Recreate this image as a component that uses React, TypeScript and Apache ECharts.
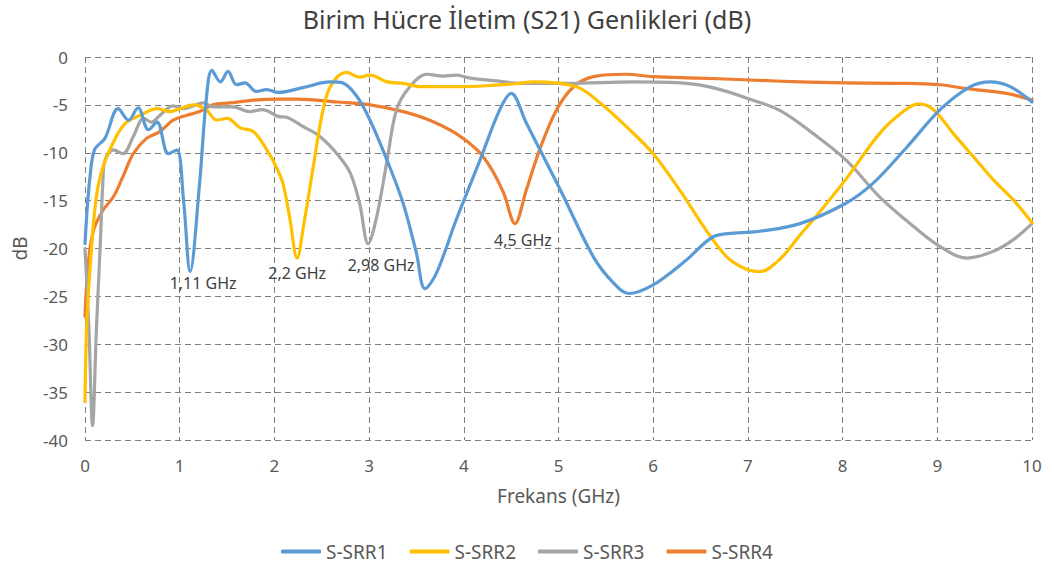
import React, { useEffect, useRef } from "react";
import * as echarts from "echarts";

const seriesNames = ["S-SRR1", "S-SRR2", "S-SRR3", "S-SRR4"];
const colors = ["#5B9BD5", "#FFC000", "#A5A5A5", "#ED7D31"];

const srr1: [number, number][] = [
  [0, -19.5], [0.02, -16.3], [0.05, -12.8], [0.1, -9.7], [0.21, -8.5], [0.35, -5.4], [0.46, -6.6],
  [0.56, -5.3], [0.67, -7.6], [0.76, -6.8], [0.88, -10.1], [0.97, -9.7], [1.04, -14.9], [1.11, -22.4],
  [1.21, -13.2], [1.28, -4.5], [1.34, -1.4], [1.43, -2.6], [1.51, -1.5], [1.6, -2.9], [1.69, -2.7],
  [1.81, -3.6], [1.92, -3.4], [2.04, -3.7], [2.3, -3.2], [2.59, -2.6], [2.72, -2.7], [2.87, -4.1],
  [3.01, -6.6], [3.19, -10.8], [3.36, -15.3], [3.5, -20.5], [3.59, -24.2], [3.71, -22.6], [3.92, -17.0],
  [4.17, -10.8], [4.38, -5.5], [4.5, -3.8], [4.66, -6.9], [5.02, -13.9], [5.37, -20.9], [5.58, -23.6],
  [5.74, -24.7], [6.0, -23.8], [6.35, -21.2], [6.63, -18.8], [6.85, -18.4], [7.13, -18.2], [7.55, -17.4],
  [8.03, -15.3], [8.32, -13.2], [8.68, -9.4], [9.03, -5.5], [9.35, -3.1], [9.56, -2.6], [9.77, -3.1],
  [10, -4.7],
];

const srr2: [number, number][] = [
  [0, -36], [0.02, -27.5], [0.07, -19.8], [0.12, -14.6], [0.19, -11.5], [0.33, -8.3], [0.44, -6.8],
  [0.58, -6.1], [0.76, -5.4], [0.9, -5.7], [1.0, -5.4], [1.15, -5.0], [1.28, -5.5], [1.39, -6.6],
  [1.5, -6.4], [1.64, -7.4], [1.78, -7.8], [1.92, -9.7], [2.02, -11.5], [2.09, -13.2], [2.16, -16.7],
  [2.24, -21.0], [2.31, -17.5], [2.41, -11.5], [2.5, -6.2], [2.59, -3.1], [2.76, -1.6], [2.9, -2.1],
  [3.01, -1.9], [3.19, -2.6], [3.36, -2.75], [3.54, -3.1], [3.89, -3.1], [4.24, -3.0], [4.59, -2.75],
  [4.73, -2.6], [5.19, -3.1], [5.44, -4.8], [5.72, -7.3], [6.0, -10.1], [6.28, -13.9], [6.56, -18.1],
  [6.78, -20.9], [6.99, -22.2], [7.13, -22.4], [7.34, -21.1], [7.55, -18.6], [7.69, -17.0], [8.04, -12.7],
  [8.39, -8.0], [8.64, -5.7], [8.8, -4.9], [8.96, -5.5], [9.17, -8.0], [9.38, -10.4], [9.59, -12.8],
  [9.8, -14.9], [10, -17.3],
];

const srr3: [number, number][] = [
  [0, -20], [0.04, -28], [0.08, -38.5], [0.12, -28.5], [0.16, -19.8], [0.19, -12.8], [0.21, -10.8],
  [0.3, -9.7], [0.4, -10.1], [0.51, -8.3], [0.62, -6.4], [0.7, -6.8], [0.79, -6.1], [0.93, -5.1],
  [1.04, -5.4], [1.25, -4.8], [1.35, -5.2], [1.56, -5.2], [1.74, -5.7], [1.87, -5.5], [2.04, -6.2],
  [2.13, -6.3], [2.31, -7.3], [2.48, -8.3], [2.66, -10.1], [2.8, -12.1], [2.9, -15.3], [2.99, -19.5],
  [3.08, -16.7], [3.19, -10.8], [3.29, -5.5], [3.43, -3.1], [3.61, -1.8], [3.78, -2.0], [3.92, -1.9],
  [4.07, -2.2], [4.35, -2.5], [4.59, -2.75], [5.09, -2.75], [5.79, -2.6], [6.35, -2.75], [6.67, -3.3],
  [6.99, -4.3], [7.34, -5.6], [7.69, -8.0], [8.04, -10.8], [8.39, -14.6], [8.75, -17.7], [9.03, -19.8],
  [9.31, -21.0], [9.59, -20.3], [9.8, -19.1], [10, -17.4],
];

const srr4: [number, number][] = [
  [0, -27.1], [0.035, -21.5], [0.09, -18.1], [0.19, -16], [0.3, -14.6], [0.4, -12.5], [0.51, -10.1],
  [0.65, -8.5], [0.79, -7.8], [0.93, -6.6], [1.07, -6.1], [1.21, -5.7], [1.35, -5.0], [1.53, -4.8],
  [1.78, -4.5], [2.04, -4.4], [2.24, -4.4], [2.66, -4.7], [3.01, -5.0], [3.36, -5.7], [3.64, -6.6],
  [3.92, -8.0], [4.14, -9.7], [4.28, -11.5], [4.42, -14.2], [4.54, -17.4], [4.66, -13.9], [4.8, -9.7],
  [4.98, -5.5], [5.16, -3.1], [5.37, -2.05], [5.72, -1.8], [6.0, -2.05], [6.49, -2.2], [7.02, -2.4],
  [7.55, -2.6], [8.04, -2.7], [8.61, -2.75], [9.03, -2.9], [9.31, -3.3], [9.73, -3.8], [10, -4.5],
];

const allData = [srr1, srr2, srr3, srr4];

// resonance annotations: [series index, frequency, dB, label]
const annotations: [number, number, number, string][] = [
  [0, 1.11, -22.4, "1,11 GHz"],
  [1, 2.24, -21.0, "2,2 GHz"],
  [2, 2.99, -19.5, "2,98 GHz"],
  [3, 4.54, -17.4, "4,5 GHz"],
];
const annotationOffsets: [number, number][] = [
  [13, 12],
  [0, 15],
  [13, 21],
  [8, 16],
];

const FONT = "'Noto Sans', 'Open Sans', sans-serif";
const TEXT = "#595959";

export default function App() {
  const ref = useRef<HTMLDivElement>(null);
  useEffect(() => {
    if (!ref.current) return;
    const chart = echarts.init(ref.current, null, { renderer: "svg" });
    const gridLine = { show: true, lineStyle: { color: "#7f7f7f", type: [6, 4] as any, width: 1 } };
    chart.setOption({
      animation: false,
      backgroundColor: "#ffffff",
      textStyle: { fontFamily: FONT },
      title: {
        text: "Birim Hücre İletim (S21) Genlikleri (dB)",
        left: "center",
        top: 1,
        textStyle: { fontFamily: FONT, fontSize: 25, fontWeight: "normal", color: "#404040" },
      },
      legend: {
        bottom: 11,
        left: "center",
        itemWidth: 40,
        itemHeight: 4,
        itemGap: 22,
        icon: "roundRect",
        textStyle: { fontFamily: FONT, fontSize: 19, color: TEXT },
        data: seriesNames,
      },
      grid: { left: 85, right: 22, top: 57, bottom: 137, containLabel: false },
      xAxis: {
        type: "value",
        min: 0,
        max: 10,
        interval: 1,
        name: "Frekans (GHz)",
        nameLocation: "middle",
        nameGap: 46,
        nameTextStyle: { fontFamily: FONT, fontSize: 19, color: TEXT },
        axisLine: { show: false },
        axisTick: { show: false },
        axisLabel: { fontFamily: FONT, fontSize: 17, color: TEXT, margin: 17 },
        splitLine: gridLine,
      },
      yAxis: {
        type: "value",
        min: -40,
        max: 0,
        interval: 5,
        name: "dB",
        nameLocation: "middle",
        nameGap: 56,
        nameTextStyle: { fontFamily: FONT, fontSize: 19, color: TEXT },
        axisLine: { show: false },
        axisTick: { show: false },
        axisLabel: { fontFamily: FONT, fontSize: 17, color: TEXT, margin: 17 },
        splitLine: gridLine,
      },
      series: allData.map((d, i) => ({
        name: seriesNames[i],
        type: "line",
        data: d,
        smooth: 0.35,
        symbol: "none",
        color: colors[i],
        lineStyle: { width: 3.2, color: colors[i], cap: "round", join: "round" },
        z: 10 - i,
        markPoint: {
          symbol: "circle",
          symbolSize: 0,
          silent: true,
          data: annotations
            .map((a, k) => ({ a, k }))
            .filter(({ a }) => a[0] === i)
            .map(({ a, k }) => ({
              coord: [a[1], a[2]],
              value: a[3],
              label: {
                show: true,
                position: "inside",
                offset: annotationOffsets[k],
                formatter: a[3],
                fontFamily: FONT,
                fontSize: 16,
                color: "#404040",
              },
            })),
        },
      })),
    });
    return () => chart.dispose();
  }, []);
  return (
    <div
      ref={ref}
      style={{ position: "fixed", left: 0, top: 0, width: 1054, height: 577 }}
    />
  );
}
